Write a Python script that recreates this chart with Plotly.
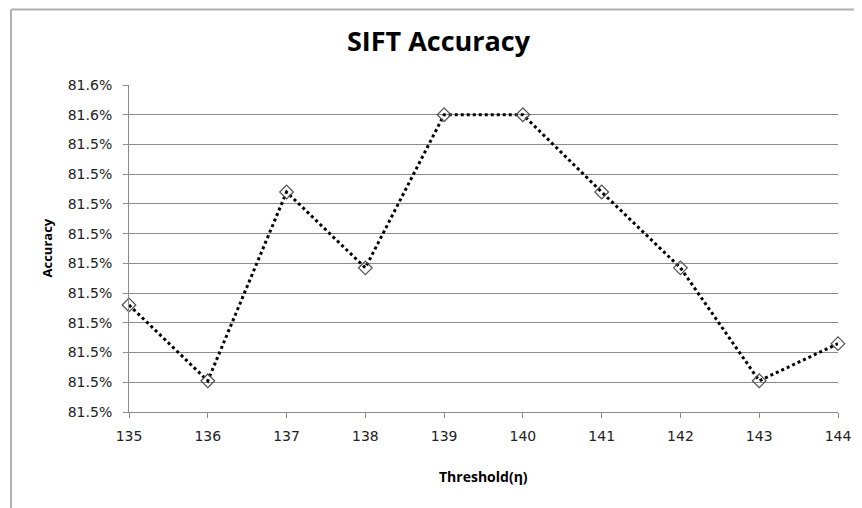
import plotly.graph_objects as go

thresholds = [135, 136, 137, 138, 139, 140, 141, 142, 143, 144]
accuracy = [81.5372, 81.5321, 81.5448, 81.5397, 81.5500, 81.5500, 81.5448, 81.5397, 81.5321, 81.5346]
y_tickvals = [81.530, 81.532, 81.534, 81.536, 81.538, 81.540, 81.542, 81.544, 81.546, 81.548, 81.550, 81.552]
y_ticktext = ["81.5%"] * 10 + ["81.6%", "81.6%"]

TICKFONT = "DejaVu Sans"
BOLDFONT = "Open Sans"
grid = "#8c8c8c"

# page body has an 8px margin, so the figure is sized to fill the remaining window
W, H = 854, 500
L, R, T, B = 121, 830, 76.7, 404.3
PW, PH = R - L, B - T

fig = go.Figure()
fig.add_trace(go.Scatter(
    x=thresholds, y=accuracy, mode="lines+markers",
    line=dict(color="black", width=3, dash="dot"),
    marker=dict(symbol="diamond-open", size=10.5, color="#505050", line=dict(width=1.2, color="#505050")),
    showlegend=False, cliponaxis=False,
))

fig.update_layout(
    width=W, height=H,
    paper_bgcolor="white", plot_bgcolor="white",
    margin=dict(l=L, r=W - R, t=T, b=H - B),
    font=dict(family=TICKFONT, color="#222"),
    title=dict(text="<b>SIFT Accuracy</b>", x=430.5 / W, xref="container", xanchor="center",
               y=1 - 34 / H, yref="container", yanchor="middle",
               font=dict(family=BOLDFONT, size=27, color="black")),
    xaxis=dict(range=[135, 144], tickvals=thresholds, ticktext=[str(t) for t in thresholds],
               showgrid=False, zeroline=False, showline=True, linecolor=grid, linewidth=1,
               ticks="outside", ticklen=5, tickcolor=grid, ticklabelstandoff=6,
               tickfont=dict(family=TICKFONT, size=14, color="#222")),
    yaxis=dict(range=[81.530, 81.552], tickvals=y_tickvals, ticktext=y_ticktext,
               showgrid=True, gridcolor=grid, gridwidth=1, zeroline=False,
               showline=True, linecolor=grid, linewidth=1,
               ticks="outside", ticklen=5, tickcolor=grid, ticklabelstandoff=8,
               tickfont=dict(family=TICKFONT, size=14, color="#222")),
    annotations=[
        dict(text="<b>Threshold(η)</b>", x=0.5, xref="paper", y=-(469 - B) / PH, yref="paper",
             showarrow=False, xanchor="center", yanchor="middle",
             font=dict(family=BOLDFONT, size=14, color="black")),
        dict(text="<b>Accuracy</b>", textangle=-90, x=-(L - 38) / PW, xref="paper", y=0.5, yref="paper",
             showarrow=False, xanchor="center", yanchor="middle",
             font=dict(family=BOLDFONT, size=13, color="black")),
    ],
    shapes=[
        dict(type="line", xref="paper", yref="paper", x0=(3 - L) / PW, x1=(900 - L) / PW,
             y0=(B - 1) / PH, y1=(B - 1) / PH, line=dict(color="#b0b0b0", width=2)),
        dict(type="line", xref="paper", yref="paper", x0=(3 - L) / PW, x1=(3 - L) / PW,
             y0=(B - 1) / PH, y1=-0.5, line=dict(color="#b0b0b0", width=2)),
    ],
)

fig.write_html("out.html")
